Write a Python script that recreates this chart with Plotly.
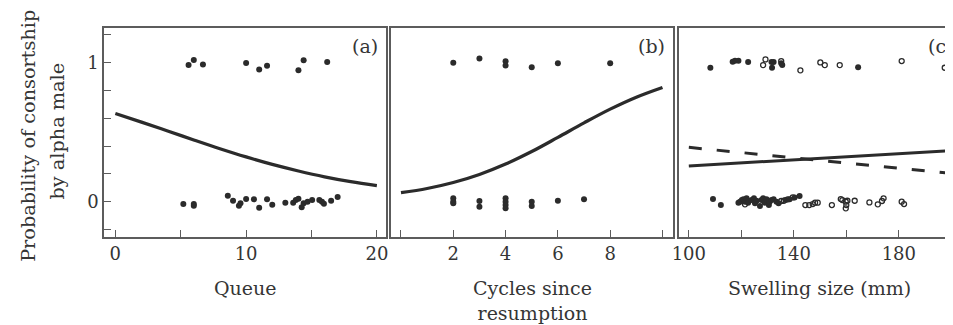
import plotly.graph_objects as go

# ---------------- data ----------------
# Panel (a): Queue
queue_yes_x = [5.6, 6.0, 6.7, 10.0, 11.0, 11.6, 14.0, 14.4, 16.2]
queue_yes_y = [0.983, 1.019, 0.988, 0.998, 0.952, 0.978, 0.945, 1.017, 1.005]
queue_no_x = [5.2, 6.0, 6.0, 8.6, 9.0, 9.45, 9.57, 10.0, 10.6, 11.0, 11.6, 12.0,
              13.0, 13.6, 13.8, 14.0, 14.25, 14.4, 14.7, 15.05, 15.6, 15.8, 15.95, 16.5, 17.0]
queue_no_y = [-0.017, -0.017, -0.03, 0.043, 0.007, -0.029, -0.012, 0.019, 0.017, -0.043, 0.017, -0.022,
              -0.007, -0.007, 0.012, 0.022, -0.04, -0.012, 0.0, 0.012, 0.012, 0.0, -0.014, 0.007, 0.034]
queue_fit_x = [0, 2, 4, 6, 8, 10, 12, 14, 16, 18, 20]
queue_fit_p = [0.635, 0.573, 0.509, 0.444, 0.381, 0.322, 0.268, 0.221, 0.179, 0.144, 0.115]

# Panel (b): Cycles since resumption
cycles_yes_x = [2, 3, 4, 4, 5, 6, 8]
cycles_yes_y = [1.0, 1.03, 1.01, 0.98, 0.967, 0.996, 0.996]
cycles_no_x = [2, 2, 2, 3, 3, 4, 4, 4, 4, 5, 5, 6, 7]
cycles_no_y = [0.024, 0.0, -0.012, 0.005, -0.036, 0.024, 0.0, -0.024, -0.048, 0.0, -0.031, 0.007, 0.017]
cycles_fit_x = [0, 1, 2, 3, 4, 5, 6, 7, 8, 9, 10]
cycles_fit_p = [0.065, 0.095, 0.138, 0.196, 0.271, 0.361, 0.463, 0.567, 0.666, 0.752, 0.822]

# Panel (c): Swelling size (mm), filled vs open symbols
swell_filled_yes_x = [108.2, 116.7, 117.6, 118.9, 122.6, 131.5, 132.3, 131.7, 135.2, 135.6, 164.5]
swell_filled_yes_y = [0.964, 1.007, 1.014, 1.014, 1.005, 1.005, 1.005, 0.964, 0.996, 0.983, 0.967]
swell_open_yes_x = [128.3, 129.2, 135.2, 142.5, 150.1, 151.8, 157.5, 181.1, 197.5]
swell_open_yes_y = [0.983, 1.024, 1.012, 0.945, 1.002, 0.983, 0.983, 1.012, 0.964]
swell_filled_no_x = [109.2, 112.2, 118.9, 119.5, 120.2, 120.8, 121.4, 122.0, 122.6, 123.9, 124.8, 125.2,
                     125.8, 127.1, 127.7, 128.3, 128.9, 129.6, 130.5, 130.8, 131.5, 132.3, 133.4, 134.2,
                     136.8, 138.4, 140.3, 142.2]
swell_filled_no_y = [0.019, -0.024, -0.007, 0.0, 0.012, 0.017, 0.0, 0.024, -0.007, 0.012, 0.024, -0.012,
                     0.007, -0.031, 0.012, 0.024, -0.007, 0.017, -0.024, 0.0, 0.012, 0.017, 0.0, -0.012,
                     0.012, 0.017, 0.031, 0.041]
swell_open_no_x = [121.4, 135.2, 136.2, 137.7, 139.6, 144.4, 145.9, 147.2, 148.1, 149.1, 154.5, 157.9,
                   158.5, 159.8, 160.0, 159.8, 160.4, 163.2, 168.8, 172.0, 173.6, 174.2, 181.1, 182.0]
swell_open_no_y = [-0.019, 0.005, 0.007, 0.017, 0.031, -0.024, -0.024, -0.017, -0.007, -0.007, -0.024, 0.019,
                   0.012, 0.0, -0.024, -0.048, 0.007, 0.007, -0.005, -0.019, 0.005, 0.024, 0.0, -0.017]
swell_fit_x = [100, 125, 150, 175, 200]
swell_fit_solid_p = [0.257, 0.285, 0.312, 0.340, 0.367]
swell_fit_dashed_p = [0.391, 0.344, 0.298, 0.251, 0.204]

x_titles = ["Queue", "Cycles since<br>resumption", "Swelling size (mm)"]
panel_tags = ["(a)", "(b)", "(c)"]
y_title_lines = ["Probability of consortship", "by alpha male"]

# ---------------- style ----------------
# the page body has an 8 px margin, so the figure sits at (8, 8) in the window
OFF = 8
W, H = 953 - OFF, 325 - OFF
FONT = "DejaVu Serif"
TXT = "#353535"
INK = "#2b2b2b"
FRAME = "#5c5c5c"


def fx(p):
    return (p - OFF) / W


def fy(p):
    return 1 - (p - OFF) / H


fig = go.Figure()

dot = dict(color=INK, size=6, symbol="circle")
ring = dict(color=INK, size=5, symbol="circle-open", line=dict(width=1.3, color=INK))

# panel a
fig.add_trace(go.Scatter(x=queue_yes_x, y=queue_yes_y, mode="markers", marker=dot, xaxis="x", yaxis="y"))
fig.add_trace(go.Scatter(x=queue_no_x, y=queue_no_y, mode="markers", marker=dot, xaxis="x", yaxis="y"))
fig.add_trace(go.Scatter(x=queue_fit_x, y=queue_fit_p, mode="lines", line=dict(color=INK, width=3.3, shape="spline"),
                         xaxis="x", yaxis="y"))
# panel b
fig.add_trace(go.Scatter(x=cycles_yes_x, y=cycles_yes_y, mode="markers", marker=dot, xaxis="x2", yaxis="y2"))
fig.add_trace(go.Scatter(x=cycles_no_x, y=cycles_no_y, mode="markers", marker=dot, xaxis="x2", yaxis="y2"))
fig.add_trace(go.Scatter(x=cycles_fit_x, y=cycles_fit_p, mode="lines", line=dict(color=INK, width=3.3, shape="spline"),
                         xaxis="x2", yaxis="y2"))
# panel c
fig.add_trace(go.Scatter(x=swell_open_yes_x, y=swell_open_yes_y, mode="markers", marker=ring, xaxis="x3", yaxis="y3"))
fig.add_trace(go.Scatter(x=swell_open_no_x, y=swell_open_no_y, mode="markers", marker=ring, xaxis="x3", yaxis="y3"))
fig.add_trace(go.Scatter(x=swell_filled_yes_x, y=swell_filled_yes_y, mode="markers", marker=dot, xaxis="x3", yaxis="y3"))
fig.add_trace(go.Scatter(x=swell_filled_no_x, y=swell_filled_no_y, mode="markers", marker=dot, xaxis="x3", yaxis="y3"))
fig.add_trace(go.Scatter(x=swell_fit_x, y=swell_fit_solid_p, mode="lines", line=dict(color=INK, width=3),
                         xaxis="x3", yaxis="y3"))
fig.add_trace(go.Scatter(x=swell_fit_x, y=swell_fit_dashed_p, mode="lines", line=dict(color=INK, width=3, dash="13px,15px"),
                         xaxis="x3", yaxis="y3"))

ydom = [fy(237), fy(27.7)]
yrange = [-0.254, 1.252]

common_x = dict(showgrid=False, zeroline=False, showline=True, linecolor=FRAME, linewidth=1.5,
                ticks="inside", ticklen=7, tickwidth=1.3, tickcolor=FRAME,
                tickfont=dict(family=FONT, size=18, color=TXT), fixedrange=True)
common_y = dict(showgrid=False, zeroline=False, showline=True, linecolor=FRAME, linewidth=1.5,
                range=yrange, domain=ydom, fixedrange=True)

fig.update_layout(
    width=W, height=H,
    margin=dict(l=0, r=0, t=0, b=0),
    paper_bgcolor="white", plot_bgcolor="white",
    showlegend=False,
    font=dict(family=FONT, color=TXT),
    xaxis=dict(common_x, domain=[fx(98), fx(383)], range=[-0.856, 20.73], anchor="y", mirror=True,
               tickvals=[0, 5, 10, 15, 20], ticktext=["0", "", "10", "", "20"]),
    xaxis2=dict(common_x, domain=[fx(388), fx(672)], range=[-0.367, 10.39], anchor="y2", mirror=True,
                tickvals=[0, 2, 4, 6, 8, 10], ticktext=["", "2", "4", "6", "8", ""]),
    xaxis3=dict(common_x, domain=[fx(678), 1.0], range=[96.11, 199.89], anchor="y3", mirror=True,
                tickvals=[100, 120, 140, 160, 180, 200], ticktext=["100", "", "140", "", "180", ""]),
    yaxis=dict(common_y, anchor="x", mirror=True, ticks="inside", ticklen=7, tickwidth=1.3, tickcolor=FRAME,
               tickvals=[-0.2, 0, 0.2, 0.4, 0.6, 0.8, 1.0, 1.2], ticktext=["", "0", "", "", "", "", "1", ""],
               tickfont=dict(family=FONT, size=18, color=TXT)),
    yaxis2=dict(common_y, anchor="x2", mirror=True, ticks="", showticklabels=False),
    yaxis3=dict(common_y, anchor="x3", mirror=False, ticks="", showticklabels=False),
)

annos = []
centers = [240.5, 530, 820.5]
for xt, c in zip(x_titles, centers):
    cy = 288 if "<br>" not in xt else 300
    annos.append(dict(text=xt, x=fx(c), y=fy(cy), xref="paper", yref="paper", xanchor="center", yanchor="middle",
                      showarrow=False, font=dict(family=FONT, size=19, color=TXT)))
for tag, xa, ya in zip(panel_tags, ["x", "x2", "x3"], ["y", "y2", "y3"]):
    annos.append(dict(text=tag, x=1, y=1, xref=xa + " domain", yref=ya + " domain", xanchor="right", yanchor="top",
                      xshift=(-6 if tag != "(c)" else 4), yshift=-5, showarrow=False,
                      font=dict(family=FONT, size=19, color=TXT)))
annos.append(dict(text=y_title_lines[0], x=fx(22), y=fy(136), xref="paper", yref="paper", xanchor="center",
                  yanchor="middle", textangle=-90, showarrow=False, font=dict(family=FONT, size=19.3, color=TXT)))
annos.append(dict(text=y_title_lines[1], x=fx(50), y=fy(131), xref="paper", yref="paper", xanchor="center",
                  yanchor="middle", textangle=-90, showarrow=False, font=dict(family=FONT, size=19.3, color=TXT)))
fig.update_layout(annotations=annos)

fig.write_html("out.html")
